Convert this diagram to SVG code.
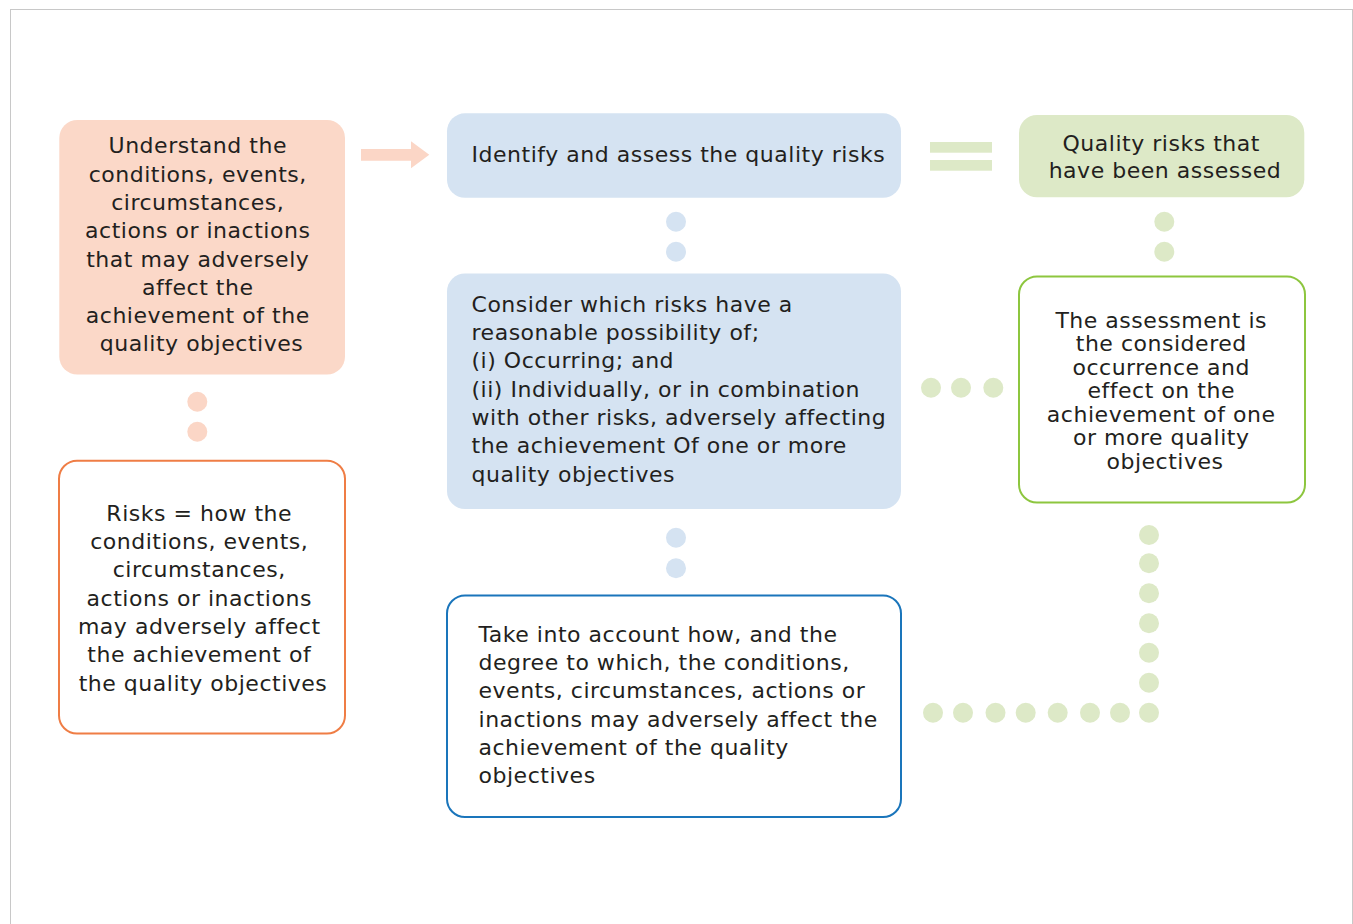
<svg xmlns="http://www.w3.org/2000/svg" width="1353" height="924" viewBox="0 0 1353 924">
<style>
text{font-family:"DejaVu Sans","Liberation Sans",sans-serif;font-size:22px;fill:#231f20;letter-spacing:0.52px}
.c{text-anchor:middle}
.od{fill:#fbd6c6}
.bd{fill:#d5e3f2}
.gd{fill:#dde9c7}
</style>
<rect x="10.5" y="9.5" width="1342" height="930" fill="#ffffff" stroke="#c8c8c8" stroke-width="1"/>
<g id="connectors">
<polygon class="od" points="361,149 411,149 411,141.3 429.3,154.8 411,168.3 411,160.7 361,160.7"/>
<rect class="gd" x="930" y="142" width="62" height="10.7"/>
<rect class="gd" x="930" y="160" width="62" height="10.7"/>
<circle class="od" cx="197.3" cy="401.7" r="10"/>
<circle class="od" cx="197.3" cy="431.7" r="10"/>
<circle class="bd" cx="676" cy="221.7" r="10"/>
<circle class="bd" cx="676" cy="251.7" r="10"/>
<circle class="bd" cx="676" cy="537.7" r="10"/>
<circle class="bd" cx="676" cy="568.3" r="10"/>
<circle class="gd" cx="1164.3" cy="221.7" r="10"/>
<circle class="gd" cx="1164.3" cy="251.7" r="10"/>
<circle class="gd" cx="931" cy="387.7" r="10"/>
<circle class="gd" cx="961" cy="387.7" r="10"/>
<circle class="gd" cx="993.3" cy="387.7" r="10"/>
<circle class="gd" cx="1149" cy="535" r="10"/>
<circle class="gd" cx="1149" cy="563.3" r="10"/>
<circle class="gd" cx="1149" cy="593.3" r="10"/>
<circle class="gd" cx="1149" cy="623.3" r="10"/>
<circle class="gd" cx="1149" cy="652.7" r="10"/>
<circle class="gd" cx="1149" cy="682.7" r="10"/>
<circle class="gd" cx="1149" cy="712.7" r="10"/>
<circle class="gd" cx="933" cy="712.7" r="10"/>
<circle class="gd" cx="963" cy="712.7" r="10"/>
<circle class="gd" cx="995.5" cy="712.7" r="10"/>
<circle class="gd" cx="1025.7" cy="712.7" r="10"/>
<circle class="gd" cx="1057.7" cy="712.7" r="10"/>
<circle class="gd" cx="1090" cy="712.7" r="10"/>
<circle class="gd" cx="1120" cy="712.7" r="10"/>
</g>
<g id="understand">
<rect x="59.3" y="120" width="285.7" height="254.5" rx="18" fill="#fbd8c8"/>
<text class="c">
<tspan x="201.5" y="153.3">Understand the</tspan>
<tspan x="201.5" y="181.6">conditions, events,</tspan>
<tspan x="201.5" y="209.9">circumstances,</tspan>
<tspan x="201.5" y="238.2">actions or inactions</tspan>
<tspan x="201.5" y="266.5">that may adversely</tspan>
<tspan x="201.5" y="294.8">affect the</tspan>
<tspan x="201.5" y="323.1">achievement of the</tspan>
<tspan x="201.5" y="351.4">quality objectives</tspan>
</text>
</g>
<g id="risks">
<rect x="59" y="460.7" width="286" height="272.8" rx="18" fill="#ffffff" stroke="#ef7d45" stroke-width="2"/>
<text class="c">
<tspan x="203" y="520.7">Risks = how the</tspan>
<tspan x="203" y="549">conditions, events,</tspan>
<tspan x="203" y="577.3">circumstances,</tspan>
<tspan x="203" y="605.6">actions or inactions</tspan>
<tspan x="203" y="633.9">may adversely affect</tspan>
<tspan x="203" y="662.2">the achievement of</tspan>
<tspan x="203" y="690.5">the quality objectives</tspan>
</text>
</g>
<g id="identify">
<rect x="447" y="113.3" width="454" height="84.5" rx="18" fill="#d5e3f2"/>
<text x="471.5" y="161.7">Identify and assess the quality risks</text>
</g>
<g id="consider">
<rect x="447" y="273.5" width="454" height="235.5" rx="18" fill="#d5e3f2"/>
<text>
<tspan x="471.5" y="311.7">Consider which risks have a</tspan>
<tspan x="471.5" y="340">reasonable possibility of;</tspan>
<tspan x="471.5" y="368.3">(i) Occurring; and</tspan>
<tspan x="471.5" y="396.6">(ii) Individually, or in combination</tspan>
<tspan x="471.5" y="424.9">with other risks, adversely affecting</tspan>
<tspan x="471.5" y="453.2">the achievement Of one or more</tspan>
<tspan x="471.5" y="481.5">quality objectives</tspan>
</text>
</g>
<g id="takeaccount">
<rect x="447" y="595.5" width="454" height="221.5" rx="18" fill="#ffffff" stroke="#1a75bb" stroke-width="2"/>
<text>
<tspan x="478.5" y="641.7">Take into account how, and the</tspan>
<tspan x="478.5" y="670">degree to which, the conditions,</tspan>
<tspan x="478.5" y="698.3">events, circumstances, actions or</tspan>
<tspan x="478.5" y="726.6">inactions may adversely affect the</tspan>
<tspan x="478.5" y="754.9">achievement of the quality</tspan>
<tspan x="478.5" y="783.2">objectives</tspan>
</text>
</g>
<g id="assessed">
<rect x="1019" y="115" width="285.3" height="82.3" rx="18" fill="#dde9c7"/>
<text class="c">
<tspan x="1165" y="150.7">Quality risks that</tspan>
<tspan x="1165" y="178.3">have been assessed</tspan>
</text>
</g>
<g id="assessment">
<rect x="1019" y="276.5" width="286" height="226" rx="18" fill="#ffffff" stroke="#8dc63f" stroke-width="2"/>
<text class="c">
<tspan x="1165" y="327.7">The assessment is</tspan>
<tspan x="1165" y="351.2">the considered</tspan>
<tspan x="1165" y="374.7">occurrence and</tspan>
<tspan x="1165" y="398.2">effect on the</tspan>
<tspan x="1165" y="421.7">achievement of one</tspan>
<tspan x="1165" y="445.2">or more quality</tspan>
<tspan x="1165" y="468.7">objectives</tspan>
</text>
</g>
</svg>
